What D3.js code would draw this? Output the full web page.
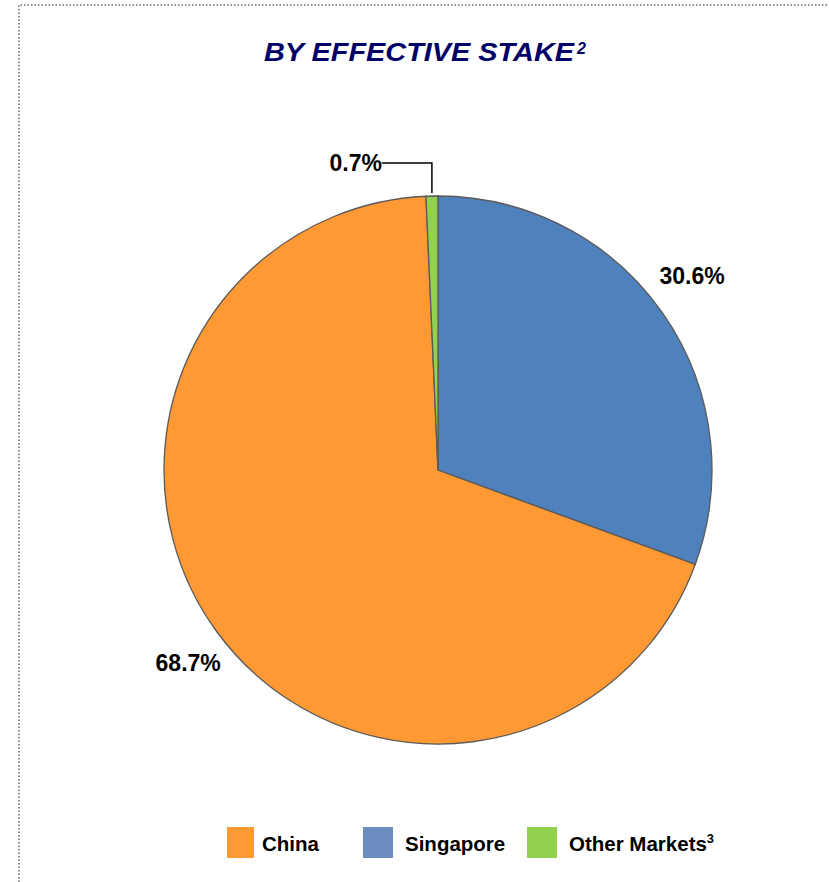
<!DOCTYPE html>
<meta charset="utf-8">
<script src="https://d3js.org/d3.v7.min.js"></script>
<style>
  body { margin: 0; background: #fff; }
  text { font-family: Arial, "Liberation Sans", sans-serif; font-weight: bold; }
</style>
<div id="chart"></div>
<script>
  // data
  const categories = ["China", "Singapore", "Other Markets"];
  const values = [68.7, 30.6, 0.7];
  const pieOrder = ["Singapore", "China", "Other Markets"];
  const legendColors = ["#FF9933", "#6B8CBE", "#92D050"];
  const sliceColors = ["#FF9933", "#4F81BD", "#92D050"];

  const W = 829, H = 882;
  const cx = 438, cy = 470, R = 274;

  const svg = d3.select("#chart").append("svg")
    .attr("width", W).attr("height", H);

  // dotted frame
  svg.append("path")
    .attr("d", `M19,${H} L19,5 L${W},5`)
    .attr("fill", "none")
    .attr("stroke", "#666")
    .attr("stroke-width", 1.5)
    .attr("stroke-dasharray", "1.5,2");

  // title
  svg.append("text")
    .attr("x", 264).attr("y", 61)
    .attr("textLength", 310)
    .attr("lengthAdjust", "spacingAndGlyphs")
    .attr("font-size", 26)
    .attr("font-style", "italic")
    .attr("fill", "#000066")
    .text("BY EFFECTIVE STAKE");
  svg.append("text")
    .attr("x", 577).attr("y", 54)
    .attr("font-size", 16)
    .attr("font-style", "italic")
    .attr("fill", "#000066")
    .text("2");

  const data = pieOrder.map(name => {
    const i = categories.indexOf(name);
    return {name, value: values[i], color: sliceColors[i]};
  });

  const pie = d3.pie().sort(null).value(d => d.value);
  const arcs = pie(data);
  const arc = d3.arc().innerRadius(0).outerRadius(R);

  const g = svg.append("g").attr("transform", `translate(${cx},${cy})`);

  g.selectAll("path.slice")
    .data(arcs)
    .join("path")
      .attr("class", "slice")
      .attr("d", arc)
      .attr("fill", d => d.data.color)
      .attr("stroke", "#5a5a5a")
      .attr("stroke-width", 1.3);

  const fmt = v => v.toFixed(1) + "%";
  const labelR = R * 1.16, shift = -2 * Math.PI / 180;
  const labelPos = d => {
    const a = (d.startAngle + d.endAngle) / 2 + shift;
    return [labelR * Math.sin(a), -labelR * Math.cos(a)];
  };

  // big slices: labels outside, no leader
  g.selectAll("text.lab")
    .data(arcs.filter(d => d.data.value > 5))
    .join("text")
      .attr("class", "lab")
      .attr("transform", d => `translate(${labelPos(d)})`)
      .attr("text-anchor", "middle")
      .attr("dy", "0.2em")
      .attr("font-size", 23)
      .attr("fill", "#000")
      .text(d => fmt(d.data.value));

  // small slice: label with elbow leader
  arcs.filter(d => d.data.value <= 5).forEach(d => {
    const mid = (d.startAngle + d.endAngle) / 2;
    const px = (R + 3) * Math.sin(mid), py = -(R + 3) * Math.cos(mid);
    const ey = py - 30;
    const tx = px - 50;
    g.append("path")
      .attr("d", `M${px},${py} L${px},${ey} L${tx},${ey}`)
      .attr("fill", "none")
      .attr("stroke", "#000")
      .attr("stroke-width", 1.5);
    g.append("text")
      .attr("x", tx).attr("y", ey)
      .attr("dy", "0.36em")
      .attr("text-anchor", "end")
      .attr("font-size", 23)
      .attr("fill", "#000")
      .text(fmt(d.data.value));
  });

  // legend
  const legendX = [227, 363, 527];
  const leg = svg.append("g");
  categories.forEach((c, i) => {
    leg.append("rect")
      .attr("x", legendX[i]).attr("y", 827)
      .attr("width", i === 0 ? 27 : 30).attr("height", 31)
      .attr("fill", legendColors[i]);
    const t = leg.append("text")
      .attr("x", legendX[i] + (i === 0 ? 35 : 42)).attr("y", 851)
      .attr("font-size", 20.5)
      .attr("fill", "#000")
      .text(c);
    if (c === "Other Markets") {
      t.append("tspan").attr("dy", -8).attr("font-size", 13).text("3");
    }
  });
</script>
